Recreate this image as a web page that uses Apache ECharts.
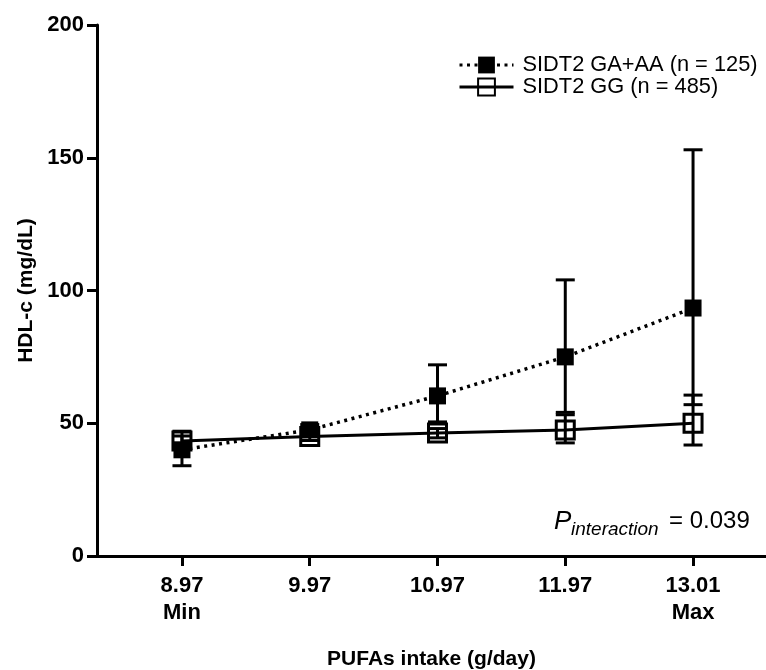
<!DOCTYPE html>
<html>
<head>
<meta charset="utf-8">
<script src="https://cdn.jsdelivr.net/npm/echarts@6/dist/echarts.min.js"></script>
<style>
  html, body { margin: 0; padding: 0; background: #fff; }
  #chart { width: 766px; height: 670px; }
</style>
</head>
<body>
<div id="chart"></div>
<script>
// x positions are the quintile steps, drawn evenly spaced
var xLabels = ["8.97\nMin", "9.97", "10.97", "11.97", "13.01\nMax"];
var yTicks = [0, 50, 100, 150, 200];

// SIDT2 GA+AA (filled squares, dotted line)
var gaName = "SIDT2 GA+AA (n = 125)";
var gaMean = [40, 47.5, 60.3, 75, 93.4];
var gaLow = [34, 45.5, 50.5, 54.1, 57];
var gaHigh = [47, 49.5, 72, 104, 153];

// SIDT2 GG (open squares, solid line)
var ggName = "SIDT2 GG (n = 485)";
var ggMean = [43.3, 45, 46.3, 47.5, 50];
var ggLow = [41.5, 43.5, 44.5, 42.6, 41.8];
var ggHigh = [45.2, 46.5, 48, 53.2, 60.6];

var FONT = "Liberation Sans";

function pairs(vals) {
    return vals.map(function (v, i) { return [i, v]; });
}
function bars(lo, hi) {
    return lo.map(function (v, i) { return [i, v, hi[i]]; });
}

// renderErr draws one vertical error bar with caps
function renderErr(params, api) {
    var x = api.value(0);
    var lo = api.coord([x, api.value(1)]);
    var hi = api.coord([x, api.value(2)]);
    var w = 9.5;
    var st = { stroke: "#000", lineWidth: 3 };
    return {
        type: "group",
        children: [
            { type: "line", shape: { x1: lo[0], y1: lo[1], x2: hi[0], y2: hi[1] }, style: st },
            { type: "line", shape: { x1: lo[0] - w, y1: lo[1], x2: lo[0] + w, y2: lo[1] }, style: st },
            { type: "line", shape: { x1: hi[0] - w, y1: hi[1], x2: hi[0] + w, y2: hi[1] }, style: st }
        ]
    };
}

var chart = echarts.init(document.getElementById("chart"));

chart.setOption({
    animation: false,
    backgroundColor: "#fff",
    grid: { left: 97, right: 0, top: 25, bottom: 114, outerBoundsMode: "none", containLabel: false },
    legend: {
        orient: "vertical",
        left: 453,
        top: 49,
        itemWidth: 54,
        itemHeight: 21,
        itemGap: 0,
        data: [gaName, ggName],
        lineStyle: { width: 3 },
        textStyle: { fontFamily: FONT, fontSize: 21.8, color: "#000", padding: [0, 0, 0, 4] }
    },
    xAxis: {
        type: "value",
        min: -0.665,
        max: 4.571,
        splitLine: { show: false },
        axisLine: { onZero: false, lineStyle: { color: "#000", width: 3 } },
        axisTick: {
            customValues: [0, 1, 2, 3, 4],
            length: 10,
            lineStyle: { color: "#000", width: 3 }
        },
        axisLabel: {
            customValues: [0, 1, 2, 3, 4],
            formatter: function (v) { return xLabels[Math.round(v)]; },
            margin: 16,
            fontFamily: FONT,
            fontWeight: "bold",
            fontSize: 22,
            lineHeight: 27,
            color: "#000"
        },
        name: "PUFAs intake (g/day)",
        nameLocation: "middle",
        nameGap: 93,
        nameTextStyle: { fontFamily: FONT, fontWeight: "bold", fontSize: 21, color: "#000" }
    },
    yAxis: {
        type: "value",
        min: 0,
        max: 200,
        interval: 50,
        splitLine: { show: false },
        axisLine: { show: true, onZero: false, lineStyle: { color: "#000", width: 3 } },
        axisTick: { show: true, length: 10, lineStyle: { color: "#000", width: 3 } },
        axisLabel: {
            margin: 13,
            fontFamily: FONT,
            fontWeight: "bold",
            fontSize: 22,
            color: "#000",
            formatter: function (v) { return yTicks.indexOf(v) >= 0 ? String(v) : ""; }
        },
        name: "HDL-c (mg/dL)",
        nameLocation: "middle",
        nameGap: 60,
        nameTextStyle: { fontFamily: FONT, fontWeight: "bold", fontSize: 21, color: "#000" }
    },
    series: [
        {
            name: ggName,
            type: "line",
            data: pairs(ggMean),
            z: 2,
            symbol: "rect",
            symbolSize: 18,
            lineStyle: { color: "#000", width: 3 },
            itemStyle: { color: "rgba(0,0,0,0)", borderColor: "#000", borderWidth: 3 }
        },
        {
            name: gaName,
            type: "line",
            data: pairs(gaMean),
            z: 3,
            symbol: "rect",
            symbolSize: 17,
            lineStyle: { color: "#000", width: 3.5, type: [3, 4.5] },
            itemStyle: { color: "#000" }
        },
        {
            type: "custom",
            renderItem: renderErr,
            data: bars(ggLow, ggHigh),
            z: 4,
            silent: true
        },
        {
            type: "custom",
            renderItem: renderErr,
            data: bars(gaLow, gaHigh),
            z: 4,
            silent: true
        }
    ],
    graphic: [
        { type: "text", left: 554, top: 509, style: { text: "P", font: "italic 26px " + FONT, fill: "#000" } },
        { type: "text", left: 571, top: 520, style: { text: "interaction", font: "italic 19px " + FONT, fill: "#000" } },
        { type: "text", left: 669, top: 509, style: { text: "= 0.039", font: "24px " + FONT, fill: "#000" } }
    ]
});
</script>
</body>
</html>
